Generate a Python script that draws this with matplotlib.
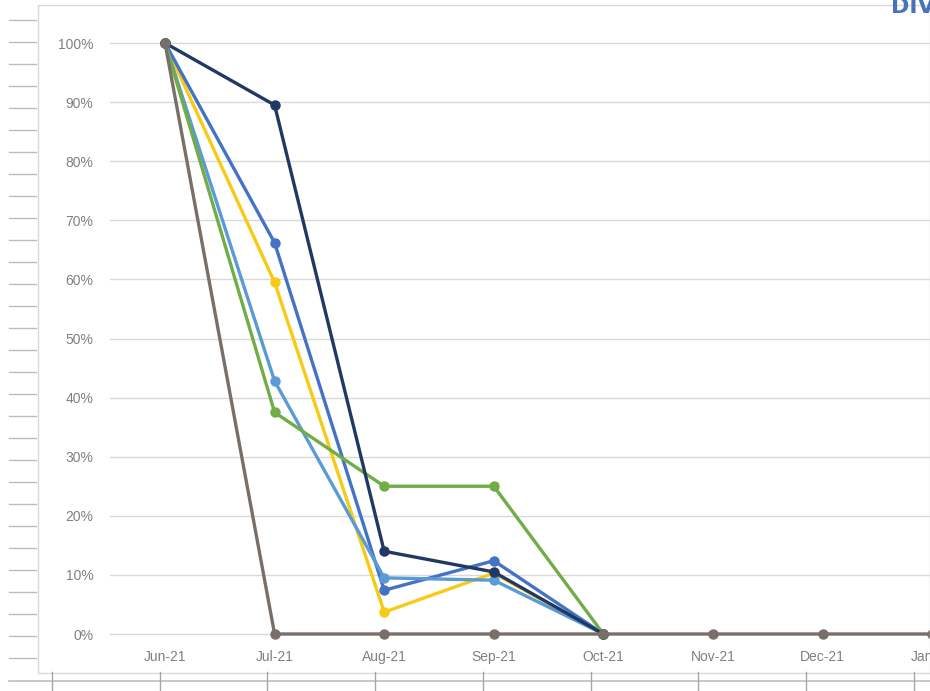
import matplotlib
matplotlib.use("Agg")
import matplotlib.pyplot as plt
from matplotlib.lines import Line2D
from matplotlib.patches import Rectangle

months = ["Jun-21", "Jul-21", "Aug-21", "Sep-21", "Oct-21", "Nov-21", "Dec-21", "Jan-22"]
yellow_vals = [100, 59.5, 3.7, 10.3, 0]
blue_vals = [100, 66.2, 7.4, 12.4, 0]
lightblue_vals = [100, 42.8, 9.5, 9.1, 0]
green_vals = [100, 37.5, 25, 25, 0]
navy_vals = [100, 89.5, 14.0, 10.5, 0]
gray_vals = [100, 0, 0, 0, 0, 0, 0, 0]
yticks = [0, 10, 20, 30, 40, 50, 60, 70, 80, 90, 100]

series = [
    (yellow_vals, "#F7CB15"),
    (blue_vals, "#4472C4"),
    (lightblue_vals, "#5B9BD5"),
    (green_vals, "#70AD47"),
    (navy_vals, "#203864"),
    (gray_vals, "#7A6F68"),
]

W, H = 930, 691
fig = plt.figure(figsize=(W / 100, H / 100), dpi=100)
fig.patch.set_facecolor("white")

def px(x, y):
    return x / W, 1 - y / H

# spreadsheet decorations (figure coords)
for k in range(30):
    yy = 20 + 22 * k
    if yy > 668:
        break
    fig.add_artist(Line2D([9 / W, 36 / W], [1 - yy / H] * 2, color="#bdbdbd", lw=1))
fig.add_artist(Line2D([9 / W, 1], [1 - 681 / H] * 2, color="#bdbdbd", lw=1.2))
for k in range(9):
    xx = 52 + 107.7 * k
    fig.add_artist(Line2D([xx / W] * 2, [1 - 672 / H, 0], color="#a6a6a6", lw=1))
# chart frame
fig.add_artist(Rectangle(px(38, 673), (W - 38) / W, (673 - 5) / H, fill=False,
                         edgecolor="#d9d9d9", lw=1))

# axes: x index 0 at px 165, spacing 109.6; y 0% at 634, 100% at 43
x0, dx = 165, 109.6
left_px, right_px = 110, 930
top_px, bot_px = 20, 650
ypp = (634 - 43) / 100.0
ax = fig.add_axes([left_px / W, 1 - bot_px / H, (right_px - left_px) / W, (bot_px - top_px) / H])
ax.set_xlim((left_px - x0) / dx, (right_px - x0) / dx)
ax.set_ylim(-(bot_px - 634) / ypp, 100 + (43 - top_px) / ypp)
for s in ax.spines.values():
    s.set_visible(False)
ax.set_yticks(yticks)
ax.set_yticklabels([f"{v}%" for v in yticks])
ax.yaxis.grid(True, color="#d9d9d9", lw=1)
ax.set_axisbelow(True)
ax.tick_params(axis="y", length=0, pad=12, labelsize=10, labelcolor="#808080")
ax.set_xticks([])

for vals, col in series:
    ax.plot(range(len(vals)), vals, color=col, lw=2.4, marker="o", ms=6.5,
            clip_on=False, solid_joinstyle="round")

for i, m in enumerate(months):
    fig.text((x0 + dx * i) / W, 1 - 657 / H, m, ha="center", va="center",
             fontsize=10, color="#808080", family="Liberation Sans")

for lab in ax.get_yticklabels():
    lab.set_family("Liberation Sans")

fig.text(891 / W, 1 - 7 / H, "DIV", ha="left", va="center", fontsize=16,
         fontweight="bold", color="#4a72b8")

fig.savefig("out.png", dpi=100)
